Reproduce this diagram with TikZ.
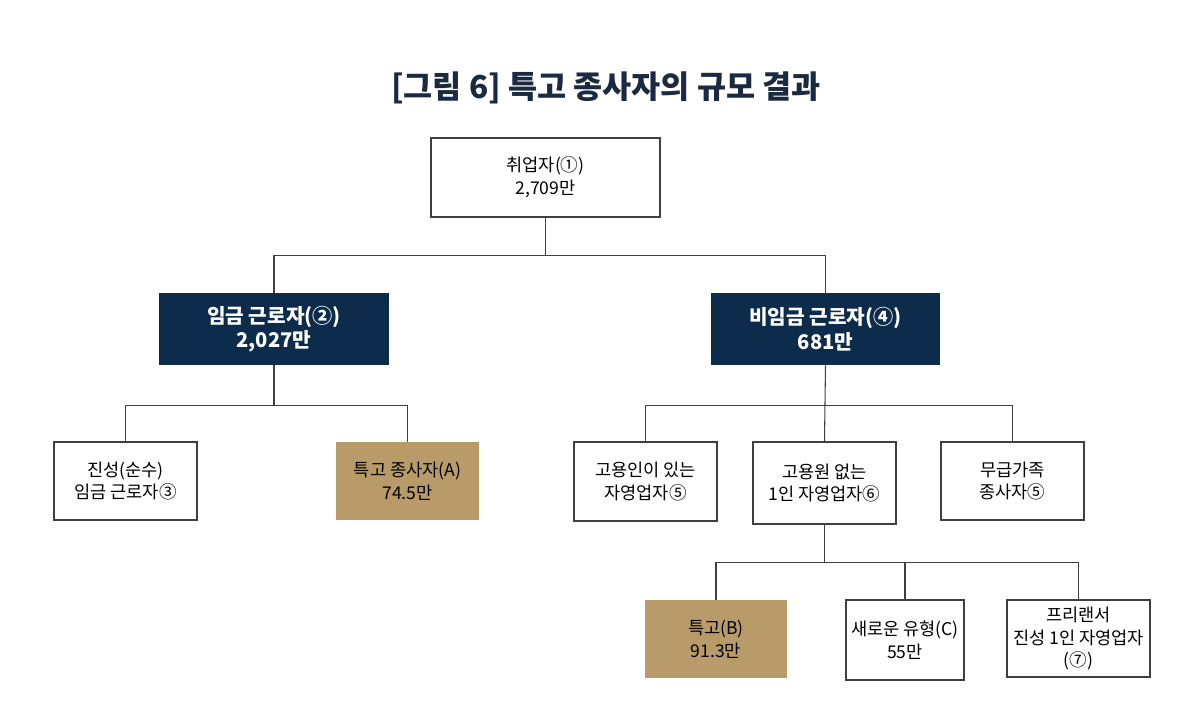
\documentclass[tikz,border=0pt]{standalone}
\usepackage{fontspec}
\setmainfont{Noto Sans CJK KR}
\definecolor{navy}{HTML}{0D2B4A}
\definecolor{tan}{HTML}{B89B68}
\definecolor{titlec}{HTML}{1A2A40}
\begin{document}
\begin{tikzpicture}[x=0.02cm,y=-0.02cm,
  bx/.style={draw=black!75,line width=0.6pt,fill=white,align=center,font=\fontsize{10}{13}\selectfont,inner sep=0pt},
  dk/.style={fill=navy,text=white,align=center,font=\bfseries\fontsize{11.5}{14}\selectfont,inner sep=0pt},
  tn/.style={fill=tan,align=center,font=\fontsize{10}{13}\selectfont,inner sep=0pt},
  ln/.style={draw=black!75,line width=0.6pt}]
\useasboundingbox (0,0) rectangle (1201,713);
\node[font=\bfseries\fontsize{18}{20}\selectfont,text=titlec] (t) at (606,88) {[그림 6] 특고 종사자의 규모 결과};
\node[bx,minimum width=229\pgflinewidth*0+4.58cm,minimum height=1.58cm] (top) at (545.5,177.5) {취업자(①)\\2,709만};
\node[dk,minimum width=4.6cm,minimum height=1.44cm] (w) at (274,329) {임금 근로자(②)\\2,027만};
\node[dk,minimum width=4.58cm,minimum height=1.44cm] (nw) at (825.5,329) {비임금 근로자(④)\\681만};
\node[bx,minimum width=2.86cm,minimum height=1.56cm] (a1) at (125.5,481) {진성(순수)\\임금 근로자③};
\node[tn,minimum width=2.86cm,minimum height=1.56cm] (a2) at (407.5,481) {특고 종사자(A)\\74.5만};
\node[bx,minimum width=2.86cm,minimum height=1.58cm] (b1) at (645.5,481.5) {고용인이 있는\\자영업자⑤};
\node[bx,minimum width=2.86cm,minimum height=1.64cm] (b2) at (824.5,483) {고용원 없는\\1인 자영업자⑥};
\node[bx,minimum width=2.86cm,minimum height=1.56cm] (b3) at (1012.5,481) {무급가족\\종사자⑤};
\node[tn,minimum width=2.84cm,minimum height=1.56cm] (c1) at (716,639) {특고(B)\\91.3만};
\node[bx,minimum width=2.36cm,minimum height=1.6cm] (c2) at (905,640) {새로운 유형(C)\\55만};
\node[bx,minimum width=2.86cm,minimum height=1.54cm] (c3) at (1078.5,638.5) {프리랜서\\진성 1인 자영업자\\(⑦)};
\draw[ln] (top.south) -- ++(0,38) -| (w.north);
\draw[ln] (top.south) ++(0,38) -| (nw.north);
\draw[ln] (w.south) -- ++(0,40) -| (a1.north);
\draw[ln] (w.south) ++(0,40) -| (a2.north);
\draw[ln] (nw.south) -- (b2.north);
\draw[ln] (nw.south) ++(0,40) -| (b1.north);
\draw[ln] (nw.south) ++(0,40) -| (b3.north);
\draw[ln] (b2.south) -- ++(0,38) -| (c1.north);
\draw[ln] (b2.south) ++(0,38) -| (c2.north);
\draw[ln] (b2.south) ++(0,38) -| (c3.north);
\end{tikzpicture}
\end{document}
